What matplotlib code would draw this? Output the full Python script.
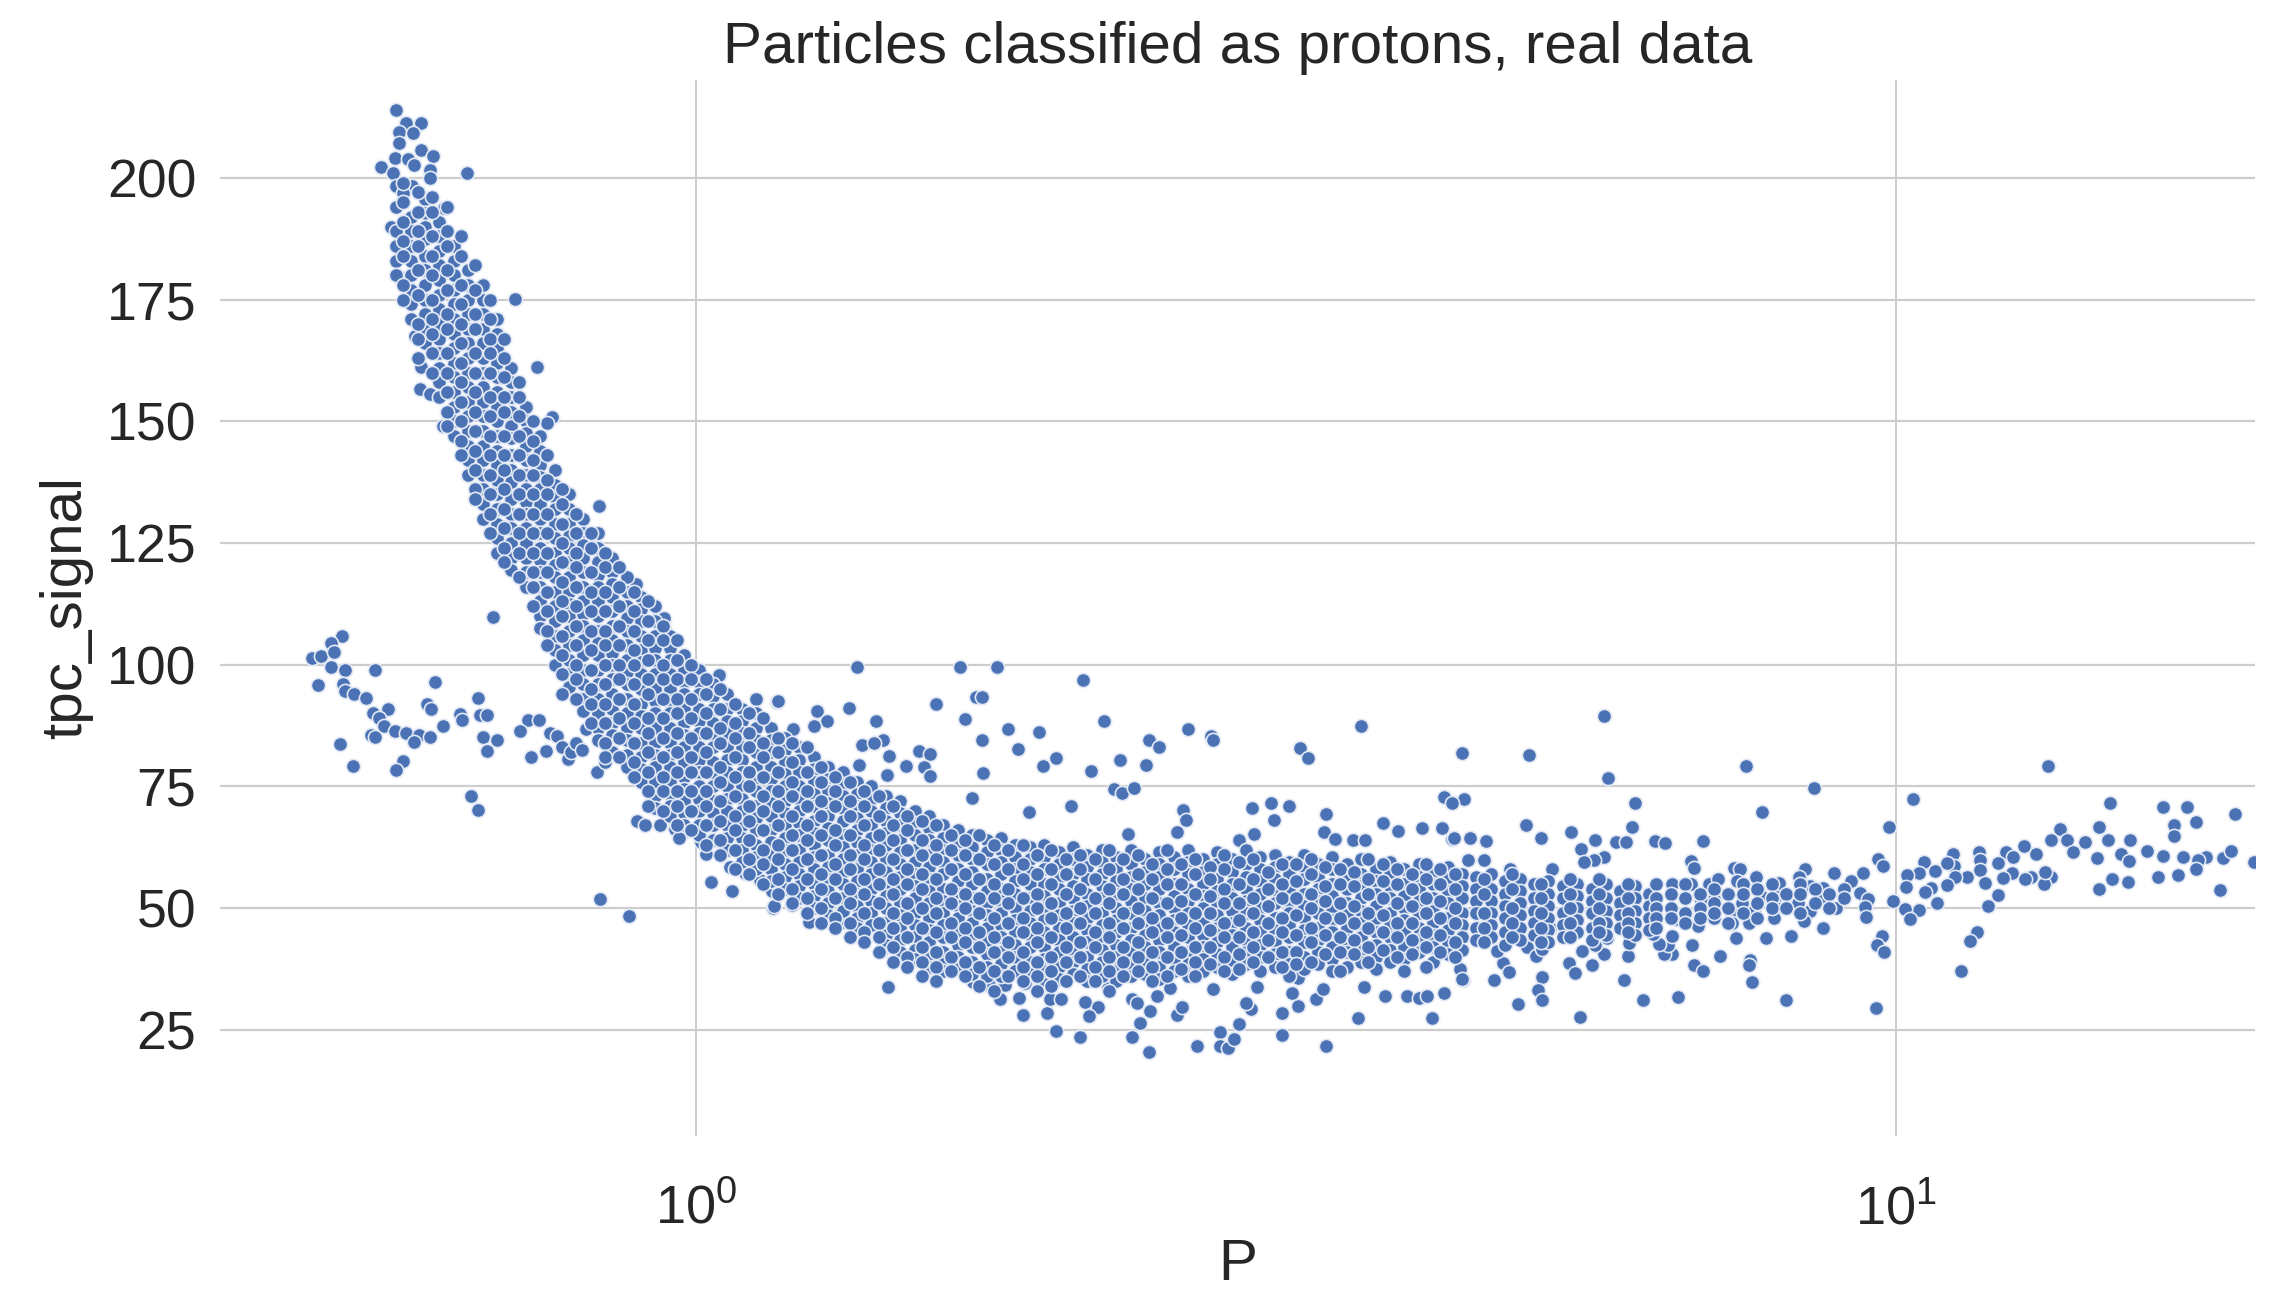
import matplotlib
matplotlib.use('Agg')
import matplotlib.pyplot as plt
import numpy as np

TITLE = 'Particles classified as protons, real data'
Y_TICKS = [25, 50, 75, 100, 125, 150, 175, 200]

# dense band, one row of signal readings per log10(P) column
cloud_log_p = [
    -0.250, -0.238, -0.226, -0.214, -0.202, -0.190, -0.178, -0.166, -0.154, -0.142,
    -0.130, -0.118, -0.106, -0.094, -0.082, -0.070, -0.058, -0.046, -0.034, -0.022,
    -0.010, 0.002, 0.014, 0.026, 0.038, 0.050, 0.062, 0.074, 0.086, 0.098,
    0.110, 0.122, 0.134, 0.146, 0.158, 0.170, 0.182, 0.194, 0.206, 0.218,
    0.230, 0.242, 0.254, 0.266, 0.278, 0.290, 0.302, 0.314, 0.326, 0.338,
    0.350, 0.362, 0.374, 0.386, 0.398, 0.410, 0.422, 0.434, 0.446, 0.458,
    0.470, 0.482, 0.494, 0.506, 0.518, 0.530, 0.542, 0.554, 0.566, 0.578,
    0.590, 0.602, 0.614, 0.626, 0.638, 0.650, 0.662, 0.674, 0.686, 0.698,
    0.710, 0.722, 0.734, 0.746, 0.758, 0.770, 0.782, 0.794,
]
cloud_signal = [
    [189, 186, 183, 180],
    [192, 189, 186, 183, 180, 177, 174, 171],
    [190, 187.5, 184, 181, 178, 175, 172, 169, 166],
    [191, 188, 185, 182, 179, 176, 173, 170, 167, 164, 161, 158, 155],
    [186, 183, 180, 177, 174, 171, 168, 165, 162, 159, 156, 153, 150, 147],
    [181, 178, 175, 172, 169, 166, 163, 160, 157, 154, 151, 148, 145, 142, 139],
    [178, 175, 172, 169, 166, 163, 160, 157, 154, 151, 148, 145, 142, 139, 136, 133, 130],
    [171, 168, 165, 162, 159, 156, 153, 150, 147, 144, 141, 138, 135, 132, 129, 126, 123],
    [161, 158, 155, 152, 149, 146.5, 143, 140, 137.5, 134, 131, 128, 125, 122, 119.5],
    [153, 150, 147.5, 145, 142, 139, 136, 133.5, 131, 128, 125, 122, 119, 116],
    [147, 144, 141, 138.5, 136, 133, 130, 127, 124, 121.5, 119, 116, 113, 110, 107.5],
    [140, 137, 134.5, 132, 129, 126, 123, 120.5, 118, 115, 112, 109, 106, 103, 100],
    [135, 132, 129, 126.5, 124, 121, 118, 115, 112.5, 110, 107, 104, 101, 98, 95.5],
    [130, 127, 124.5, 122, 119, 116, 113, 110.5, 108, 105, 102, 99, 96, 93, 90.5],
    [127, 124, 121, 118.5, 116, 113, 110, 107, 104.5, 102, 99, 96, 93, 90, 87, 84.5],
    [122, 119, 116.5, 114, 111, 108, 105, 102.5, 100, 97, 94, 91, 88, 85.5, 82],
    [118, 115, 112, 109.5, 107, 104, 101, 98.5, 96, 93, 90, 87, 84.5, 81.5, 79],
    [114, 111.5, 109, 106, 103, 100.5, 98, 95, 92, 89.5, 87, 84, 81, 78.5, 76],
    [112, 109, 106, 103.5, 101, 98, 95, 92.5, 90, 87, 84, 81.5, 79, 76, 73, 70.5],
    [106, 103.5, 101, 98, 95, 92.5, 90, 87, 84, 81.5, 79, 76, 73.5, 71, 69],
    [102, 99, 96.5, 94, 91, 88, 85.5, 83, 80, 77, 74.5, 72, 69.5, 67],
    [99, 96.5, 94, 91, 88.5, 86, 83, 80.5, 78, 75, 72.5, 70, 67, 65],
    [96, 93.5, 91, 88, 85.5, 83, 80, 77.5, 75, 72, 69.5, 67, 64],
    [94, 91, 88.5, 86, 83, 80.5, 78, 75, 72.5, 70, 67, 64.5, 62],
    [91, 88.5, 86, 83, 80.5, 78, 75, 72.5, 70, 67, 64.5, 62, 59.5],
    [90, 87, 84.5, 82, 79, 76.5, 74, 71, 68.5, 66, 63, 60.5, 58],
    [87, 84.5, 82, 79, 76.5, 74, 71.5, 69, 66, 63.5, 61, 58, 55.5],
    [85, 82.5, 80, 77.5, 75, 72, 69.5, 67, 64.5, 62, 59, 56.5, 54],
    [83, 80.5, 78, 75, 72.5, 70, 67.5, 65, 62, 59.5, 57, 54.5, 52],
    [81, 78.5, 76, 73.5, 71, 68, 65.5, 63, 60.5, 58, 55, 52.5, 50],
    [79, 76.5, 74, 71.5, 69, 66.5, 64, 61, 58.5, 56, 53.5, 51, 48.5],
    [78, 75.5, 73, 70.5, 68, 65, 62.5, 60, 57.5, 55, 52, 49.5],
    [76, 73.5, 71, 68.5, 66, 63.5, 61, 58, 55.5, 53, 50.5, 48, 46],
    [75, 72.5, 70, 67, 64.5, 62, 59.5, 57, 54, 51.5, 49, 46.5],
    [73, 70.5, 68, 65.5, 63, 60, 57.5, 55, 52.5, 50, 47, 44.5, 42.5],
    [72, 69.5, 67, 64, 61.5, 59, 56.5, 54, 51, 48.5, 46, 43.5, 41],
    [70, 67.5, 65, 62, 59.5, 57, 54.5, 52, 49, 46.5, 44, 41.5, 39.5],
    [69, 66.5, 64, 61, 58.5, 56, 53.5, 51, 48, 45.5, 43, 40.5, 38],
    [67, 64.5, 62, 59.5, 57, 54, 51.5, 49, 46.5, 44, 41, 38.5, 37],
    [66, 63.5, 61, 58, 55.5, 53, 50.5, 48, 45, 42.5, 40, 37.5],
    [65, 62.5, 60, 57.5, 55, 52, 49.5, 47, 44.5, 42, 39, 36.5],
    [64, 61.5, 59, 56, 53.5, 51, 48.5, 46, 43, 40.5, 38, 36],
    [64.5, 62, 59.5, 57, 54, 51.5, 49, 46.5, 44, 41, 38.5, 36],
    [63, 60.5, 58, 55.5, 53, 50, 47.5, 45, 42.5, 40, 37],
    [62.5, 60, 57.5, 55, 52, 49.5, 47, 44.5, 42, 39, 36.5],
    [63, 60.5, 58, 55, 52.5, 50, 47.5, 45, 42, 39.5, 37, 34.5],
    [61.5, 59, 56.5, 54, 51, 48.5, 46, 43.5, 41, 38, 35.5],
    [62.5, 60, 57, 54.5, 52, 49.5, 47, 44, 41.5, 39, 36.5],
    [61, 58.5, 56, 53, 50.5, 48, 45.5, 43, 40, 37.5, 35],
    [62, 59.5, 57, 54.5, 52, 49, 46.5, 44, 41.5, 39, 36],
    [60.5, 58, 55.5, 53, 50, 47.5, 45, 42.5, 40, 37, 35],
    [62, 59, 56.5, 54, 51.5, 49, 46, 43.5, 41, 38.5, 36],
    [60, 57.5, 55, 52, 49.5, 47, 44.5, 42, 39, 36.5],
    [61.5, 59, 56.5, 54, 51, 48.5, 46, 43.5, 41, 38, 35.5],
    [60.5, 58, 55, 52.5, 50, 47.5, 45, 42, 39.5, 37],
    [62, 59.5, 57, 54, 51.5, 49, 46.5, 44, 41, 38.5, 36],
    [60, 57.5, 55, 52.5, 50, 47, 44.5, 42, 39.5, 37],
    [61.5, 59, 56, 53.5, 51, 48.5, 46, 43, 40.5, 38],
    [60, 57.5, 55, 52, 49.5, 47, 44.5, 42, 39, 36.5],
    [62, 59, 56.5, 54, 51.5, 49, 46, 43.5, 41, 38.5],
    [60.5, 58, 55.5, 53, 50, 47.5, 45, 42.5, 40, 37],
    [61, 58.5, 56, 53.5, 51, 48, 45.5, 43, 40.5, 38],
    [59.5, 57, 54, 51.5, 49, 46.5, 44, 41, 38.5, 36],
    [61, 58.5, 56, 53, 50.5, 48, 45.5, 43, 40, 37.5],
    [59, 56.5, 54, 51.5, 49, 46, 43.5, 41, 38.5],
    [60.5, 58, 55, 52.5, 50, 47.5, 45, 42, 39.5, 37],
    [59, 56.5, 54, 51, 48.5, 46, 43.5, 41, 38],
    [60, 57, 54.5, 52, 49.5, 47, 44, 41.5, 39],
    [58, 55.5, 53, 50.5, 48, 45, 42.5, 40, 37.5],
    [59.5, 57, 54.5, 52, 49, 46.5, 44, 41.5, 39],
    [58, 55, 52.5, 50, 47.5, 45, 42, 39.5, 37],
    [59, 56.5, 54, 51.5, 49, 46, 43.5, 41],
    [57.5, 55, 52, 49.5, 47, 44.5, 42, 39],
    [58.5, 56, 53.5, 51, 48, 45.5, 43, 40.5],
    [57, 54.5, 52, 49, 46.5, 44, 41.5],
    [56.5, 54, 51.5, 49, 46, 43.5],
    [57, 54, 51.5, 49, 46.5, 44],
    [55.5, 53, 50.5, 48, 45, 42.5],
    [56, 53.5, 51, 48.5, 46, 43.5],
    [55, 52, 49.5, 47, 44.5],
    [55.5, 53, 50.5, 48, 45.5, 43],
    [54.5, 52, 49, 46.5, 44],
    [55, 52.5, 50, 47.5, 45],
    [54, 51.5, 49, 46, 43.5],
    [55, 52, 49.5, 47, 44.5],
    [53.5, 51, 48.5, 46],
    [54.5, 52, 49.5, 47, 44.5],
    [53, 50.5, 48, 45.5],
]

# second pass over the band, read between the columns above
fill_log_p = [
    -0.244, -0.232, -0.220, -0.208, -0.196, -0.184, -0.172, -0.160, -0.148, -0.136,
    -0.124, -0.112, -0.100, -0.088, -0.076, -0.064, -0.052, -0.040, -0.028, -0.016,
    -0.004, 0.008, 0.020, 0.032, 0.044, 0.056, 0.068, 0.080, 0.092, 0.104,
    0.116, 0.128, 0.140, 0.152, 0.164, 0.176, 0.188, 0.200, 0.212, 0.224,
    0.236, 0.248, 0.260, 0.272, 0.284, 0.296, 0.308, 0.320, 0.332, 0.344,
    0.356, 0.368, 0.380, 0.392, 0.416, 0.440, 0.464, 0.488, 0.512, 0.536,
    0.560, 0.584, 0.608, 0.632, 0.656, 0.680, 0.704, 0.728, 0.752, 0.776,
    0.800, 0.812, 0.824, 0.836, 0.848, 0.860, 0.872, 0.884, 0.896, 0.908,
    0.920, 0.932, 0.944, 0.956,
    0.404, 0.428, 0.452, 0.476, 0.500, 0.524, 0.548, 0.572, 0.596, 0.620,
]
fill_signal = [
    [199, 195, 191, 187, 184, 178, 175],
    [197, 193, 189, 186, 181, 176, 170, 167, 163],
    [196, 193, 188, 184, 180, 175, 171, 168, 164, 160],
    [194, 189, 186, 181, 177, 172, 169, 164, 160, 156, 152, 149],
    [188, 184, 178, 174, 170, 166, 162, 158, 154, 150, 146, 143],
    [182, 177, 172, 169, 164, 160, 156, 152, 148, 144, 140, 136, 134],
    [175, 171, 167, 164, 160, 155, 151, 147, 143, 139, 135, 131, 127],
    [167, 163, 159, 155, 152, 147, 143, 140, 136, 132, 128, 124, 121],
    [158, 155, 151, 147, 143, 139, 135, 131, 127, 123, 118],
    [150, 146, 142, 139, 135, 131, 127, 123, 119, 116, 112],
    [143, 138, 135, 131, 127, 123, 119, 115, 111, 107, 104],
    [136, 133, 129, 125, 121, 117, 113, 110, 106, 102, 98, 94],
    [131, 127, 123, 120, 116, 112, 108, 104, 100, 97, 93],
    [127, 124, 119, 115, 111, 107, 103, 99, 95, 92, 88],
    [123, 120, 115, 111, 107, 104, 100, 96, 92, 88, 84, 81],
    [120, 116, 112, 108, 104, 100, 97, 93, 89, 85, 81],
    [115, 111, 107, 103, 100, 96, 92, 88, 84, 80, 77],
    [113, 109, 105, 101, 97, 94, 89, 86, 82, 78, 74, 71],
    [108, 105, 100, 97, 93, 89, 85, 81, 77, 74, 70],
    [105, 101, 97, 93, 90, 86, 82, 78, 74, 71, 67],
    [100, 97, 93, 89, 85, 81, 78, 74, 70, 66],
    [97, 94, 90, 86, 82, 78, 74, 71, 67, 63],
    [95, 91, 87, 84, 79, 76, 72, 68, 64, 61],
    [92, 88, 85, 81, 77, 73, 69, 66, 62, 58],
    [90, 86, 83, 78, 75, 71, 68, 64, 60, 57],
    [89, 84, 81, 77, 73, 70, 66, 62, 59, 55],
    [85, 82, 78, 74, 71, 67, 63, 60, 56, 53],
    [84, 80, 76, 73, 69, 65, 62, 58, 54, 51],
    [83, 78, 74, 71, 67, 64, 60, 56, 52, 49],
    [79, 76, 72, 69, 65, 61, 57, 54, 50, 47],
    [77, 74, 71, 66, 63, 59, 56, 52, 48, 46],
    [76, 72, 69, 65, 61, 58, 54, 51, 47, 44],
    [74, 71, 67, 63, 60, 56, 53, 49, 45, 43],
    [73, 69, 65, 62, 58, 55, 51, 47, 44, 41],
    [71, 67, 64, 60, 56, 53, 49, 46, 42, 39],
    [69, 66, 62, 58, 55, 51, 48, 44, 40, 38],
    [68, 64, 61, 57, 54, 50, 46, 42, 39, 36],
    [67, 63, 60, 56, 52, 49, 45, 41, 38, 35],
    [65, 62, 58, 54, 51, 47, 44, 40, 37],
    [64, 61, 57, 53, 50, 46, 43, 39, 36],
    [65, 60, 56, 52, 49, 45, 42, 38, 34],
    [63, 59, 55, 52, 48, 44, 41, 37, 33],
    [62, 58, 54, 51, 47, 43, 40, 36],
    [63, 59, 56, 52, 48, 45, 41, 38, 35],
    [61, 57, 53, 50, 46, 43, 39, 36, 33],
    [62, 58, 55, 51, 48, 44, 40, 37, 34],
    [60, 57, 53, 49, 46, 42, 39, 35],
    [61, 58, 54, 50, 47, 43, 40, 36],
    [60, 56, 52, 49, 45, 42, 38, 35],
    [62, 58, 54, 51, 47, 44, 40, 37, 33],
    [60, 56, 53, 49, 46, 42, 39, 36],
    [61, 57, 54, 50, 47, 43, 40, 37],
    [59, 56, 52, 48, 45, 41, 38, 35],
    [62, 58, 55, 51, 47, 44, 40, 36],
    [60, 57, 53, 49, 46, 42, 39, 36],
    [61, 58, 54, 51, 47, 44, 40, 37],
    [60, 56, 52, 49, 45, 42, 39],
    [59, 55, 52, 48, 45, 41, 38],
    [60, 57, 53, 50, 46, 43, 39],
    [58, 55, 51, 48, 44, 41, 37],
    [60, 56, 53, 49, 46, 42, 39],
    [58, 55, 51, 47, 44, 40],
    [59, 56, 52, 49, 45, 42, 38],
    [57, 54, 50, 47, 43, 40],
    [56, 53, 49, 46, 43],
    [57, 54, 50, 47, 44],
    [55, 52, 49, 46, 43],
    [56, 53, 50, 47, 44],
    [56, 53, 50, 47, 45],
    [55, 52, 49, 47, 45],
    [55, 52, 50, 48, 46],
    [53, 50, 48],
    [55, 52, 49, 47],
    [53, 50, 48],
    [54, 51, 49],
    [53, 50, 47],
    [55, 53, 49],
    [54, 51, 48],
    [55, 52, 50],
    [53, 50],
    [55, 53, 49],
    [54, 51],
    [53, 50],
    [54, 52],
    [59, 55, 51.5, 48, 44.5, 41, 37.5],
    [58.5, 56, 52.5, 49, 45.5, 42, 38.5],
    [59.5, 55, 51, 47.5, 44, 40.5, 37.5],
    [57.5, 54, 50.5, 47, 43.5, 40],
    [59, 55.5, 52, 48.5, 44.5, 41, 38.5],
    [58.5, 54.5, 51.5, 48, 44.5, 40.5],
    [57.5, 54.5, 50.5, 47, 43.5, 40.5],
    [59, 55.5, 52, 48.5, 45, 41.5],
    [57, 54, 50.5, 47, 43.5, 40.5],
    [58, 55, 51.5, 48, 44.5, 41],
]

# stragglers around the top of the band
top_log_p = [-0.250, -0.242, -0.229, -0.2475, -0.236, -0.2475, -0.229, -0.219, -0.251, -0.263, -0.253, -0.240, -0.235, -0.222, -0.222, -0.191, -0.250, -0.237, -0.244, -0.226, -0.250, -0.210, -0.226, -0.240, -0.254, -0.151, -0.133, -0.120, -0.124, -0.229, -0.230, -0.222, -0.211, -0.234, -0.247, -0.169, -0.081, -0.050, -0.027, -0.027, 0.019, 0.050, 0.067]
top_signal = [214, 211.2, 211.3, 209.5, 209.2, 207.2, 205.8, 204.5, 204, 202.3, 200.9, 203.8, 202.7, 201.7, 200, 200.9, 198.3, 198.3, 196.9, 195.6, 194, 193.8, 192.7, 191.6, 190, 175.2, 161.2, 150.8, 149.7, 161.2, 156.6, 155.7, 149, 167.5, 179.7, 109.9, 132.7, 116.6, 109.5, 107.3, 97.8, 93, 92.3]

# the separate branch on the left
branch_log_p = [-0.295, -0.304, -0.320, -0.313, -0.302, -0.304, -0.293, -0.268, -0.315, -0.294, -0.293, -0.285, -0.275, -0.218, -0.182, -0.224, -0.221, -0.269, -0.257, -0.264, -0.260, -0.251, -0.242, -0.231, -0.222, -0.235, -0.271, -0.268, -0.211, -0.197, -0.195, -0.180, -0.174, -0.178, -0.166, -0.174, -0.297, -0.286, -0.244, -0.250, -0.140, -0.131, -0.147, -0.122, -0.116, -0.138, -0.125, -0.112, -0.107, -0.104, -0.100, -0.095, -0.092, -0.083, -0.076, -0.073, -0.1875, -0.182, -0.080, -0.056]
branch_signal = [105.8, 104.5, 101.4, 101.8, 102.6, 99.5, 99, 99, 95.9, 96.1, 94.5, 94, 93.2, 96.4, 93.2, 92, 91, 90.1, 91, 89.1, 87.4, 86.4, 86, 85.5, 85.1, 84.2, 85.5, 85.1, 87.4, 89.8, 88.6, 89.6, 89.6, 85.1, 84.6, 82.3, 83.8, 79.2, 80.2, 78.4, 88.7, 88.7, 86.4, 86, 85.3, 81, 82.3, 83.2, 80.7, 82, 84, 82.4, 86.8, 78, 80, 81.7, 73, 70.2, 51.8, 48.3]

# above the band, middle of the plot
upper_log_p = [0.134, 0.220, 0.251, 0.322, 0.068, 0.019, 0.127, 0.101, 0.109, 0.098, 0.200, 0.233, 0.238, 0.224, 0.150, 0.081, 0.260, 0.286, 0.340, 0.410, 0.429, 0.431, 0.554, 0.238, 0.268, 0.377, 0.386, 0.156, 0.138, 0.148, 0.186, 0.195, 0.161, 0.300, 0.353, 0.503, 0.510, 0.136, 0.175, 0.190, 0.289, 0.375, 0.329, 0.239, 0.195, 0.159, 0.348, 0.355, 0.365, 0.623, 0.312, 0.230, 0.277, 0.479, 0.494, 0.463, 0.481, 0.406, 0.408, 0.525, 0.572, 0.605, 0.621, 0.585, 0.465, 0.401, 0.360, 0.523, 0.532, 0.452, 0.547, 0.557, 0.630]
upper_signal = [99.6, 99.6, 99.6, 96.9, 92.5, 97.9, 91.1, 90.4, 88.5, 87.5, 92, 93.3, 93.3, 88.9, 88.4, 86.8, 86.7, 86.2, 88.4, 86.7, 85.3, 84.5, 87.5, 84.5, 82.6, 84.5, 83, 84.5, 83.5, 84, 82.3, 81.7, 81.3, 80.9, 80.4, 82.8, 80.8, 79.4, 79.1, 78.9, 79.1, 79.4, 78.1, 77.7, 77.2, 77.4, 74.5, 73.6, 74.7, 72.9, 70.9, 72.6, 69.7, 71.6, 71, 70.5, 68.2, 70.2, 68.2, 69.4, 67.5, 66.5, 66.5, 65.8, 65.3, 65.6, 65.3, 65.7, 64.3, 63.9, 63.9, 63.9, 64.3]

# below the band
lower_log_p = [-0.049, -0.043, -0.030, -0.0175, -0.009, -0.014, 0.004, 0.008, 0.012, 0.030, 0.028, 0.041, 0.053, 0.063, 0.064, 0.160, 0.212, 0.190, 0.154, 0.132, 0.094, 0.109, 0.122, 0.065, 0.080, 0.231, 0.244, 0.257, 0.274, 0.253, 0.269, 0.272, 0.292, 0.295, 0.304, 0.300, 0.320, 0.324, 0.335, 0.327, 0.343, 0.363, 0.367, 0.378, 0.370, 0.363, 0.377, 0.401, 0.405, 0.395, 0.384, 0.417, 0.436, 0.436, 0.443, 0.448, 0.452, 0.462, 0.458, 0.467, 0.431, 0.488, 0.488, 0.501, 0.496, 0.516, 0.522, 0.525, 0.551, 0.556, 0.574, 0.592, 0.602, 0.609, 0.623, 0.613, 0.639, 0.501]
lower_signal = [68, 67.1, 67.1, 66.3, 65.8, 64.4, 63.6, 61.2, 55.3, 53.6, 58.4, 57.2, 55.8, 53.6, 50, 33.8, 39.6, 39.1, 41.3, 44.5, 47.2, 47.6, 47.2, 50.4, 50.6, 34.8, 34.3, 34.3, 34.7, 31.3, 31.6, 28, 28.5, 31.3, 31.3, 24.8, 23.6, 30.7, 29.6, 27.9, 33.6, 31.3, 30.6, 28.9, 26.5, 23.6, 20.4, 28, 29.6, 33.6, 31.9, 21.7, 24.5, 21.7, 21.3, 23.2, 26.3, 29.2, 30.6, 33.8, 33.4, 28.5, 23.9, 29.8, 32.5, 31.3, 33.4, 21.7, 27.5, 33.8, 31.9, 31.9, 31.6, 31.9, 32.5, 27.5, 35.3, 35.7]

# thinning tail towards the right edge
tail_log_p = [0.756, 0.638, 0.694, 0.760, 0.875, 0.931, 1.126, 0.640, 0.630, 0.782, 0.888, 1.014, 1.178, 1.222, 1.242, 1.282, 1.231, 1.250, 1.231, 0.691, 0.780, 0.729, 0.994, 1.169, 1.136, 0.704, 0.631, 0.645, 0.658, 0.749, 0.737, 0.766, 0.775, 0.799, 0.807, 0.839, 0.756, 0.748, 0.740, 1.129, 1.142, 1.157, 1.176, 1.195, 1.106, 1.091, 1.116, 1.069, 1.047, 1.023, 1.147, 1.167, 1.187, 1.209, 1.222, 1.239, 1.258, 1.272, 1.279, 1.251, 1.194, 1.298, 1.250, 1.235, 1.218, 1.193, 1.180, 1.169, 1.270, 1.129, 1.123, 1.124, 1.112, 1.107, 1.096, 1.089, 1.097, 1.085, 1.070, 1.070, 1.074, 1.059, 1.048, 1.049, 1.042, 1.042, 1.032, 1.029, 1.024, 1.019, 1.009, 1.008, 1.034, 1.085, 1.076, 1.019, 1.007, 1.011, 0.997, 1.067, 1.061, 1.054, 0.988, 0.984, 0.990, 0.983, 0.908, 0.880, 0.878, 0.877, 0.853, 0.830, 0.831, 0.839, 0.818, 0.789, 0.773, 0.776, 0.777, 0.746, 0.756, 0.749, 0.738, 0.727, 0.732, 0.705, 0.701, 0.705, 0.736, 0.685, 0.665, 0.672, 0.677, 0.667, 0.692, 0.700, 0.705, 0.636, 0.638, 0.633, 0.813, 0.806, 0.810, 0.802, 0.813, 0.797, 0.866, 0.891, 0.912, 0.939, 0.759, 0.711, 0.678, 0.713, 0.656, 0.643, 0.829, 0.831, 0.865, 0.870, 0.924, 0.948, 0.985, 0.989, 0.972, 0.962, 0.970, 0.976, 0.974, 0.975, 0.950, 0.939, 0.939, 0.928, 0.918, 0.928, 0.923, 0.900, 0.887, 0.900, 0.898, 0.881, 0.877, 0.863, 0.863, 0.848, 0.835, 0.817, 0.871, 0.848, 0.837, 0.867, 0.844, 0.829, 0.813, 0.851, 0.883, 0.902, 0.919]
tail_signal = [89.4, 81.8, 81.4, 76.8, 79.1, 74.7, 79.1, 72.5, 71.5, 71.5, 69.7, 72.4, 71.5, 70.7, 70.7, 69.3, 67.1, 67.6, 64.8, 67, 66.6, 65.7, 66.6, 66.7, 66.3, 64.4, 64.4, 64.4, 63.8, 63.9, 62.2, 63.5, 63.5, 63.8, 63.3, 63.8, 60.5, 59.9, 59.5, 63.9, 63.9, 63.5, 63.9, 63.9, 62.7, 61.6, 61.2, 61.6, 61.2, 59.5, 61.6, 60.3, 61.2, 61.7, 60.7, 60.5, 60.5, 60.3, 61.8, 59.9, 59.6, 59.5, 58, 56.9, 56.5, 55.4, 55.9, 54, 53.7, 56.3, 55, 57.5, 56.4, 55.9, 57.2, 56.2, 60.6, 59.3, 59.9, 57.9, 55.2, 56.3, 58.6, 56.5, 59.3, 54.8, 57.7, 54.1, 53.3, 57.2, 56.9, 54.4, 51, 52.7, 50.4, 49.6, 49.9, 47.7, 51.4, 45.2, 43.3, 37, 44.3, 42.4, 40.9, 29.5, 31.2, 34.8, 39.4, 38.4, 40.2, 42.4, 38.4, 37, 31.7, 31.2, 35.2, 40.2, 42.9, 38.3, 40.5, 42.4, 41.1, 38.8, 36.6, 35.8, 33.1, 31.2, 27.6, 30.3, 35.2, 38.8, 36.9, 41.1, 42, 40.2, 41.7, 37.5, 35.4, 40.9, 40.5, 40.5, 42.4, 42.6, 44.3, 44.6, 43.8, 43.8, 44.2, 46, 43.8, 46, 58.1, 58.1, 59.8, 59.9, 59.6, 58.2, 58.2, 58, 58.1, 57.2, 60, 58.6, 57.2, 55.5, 53.1, 51.8, 50.3, 48.2, 50.1, 54.1, 51.8, 54.5, 51.1, 49.4, 47.3, 52.4, 52.4, 50.1, 48, 49.4, 46.9, 48.7, 46.9, 48, 46.3, 47.8, 51, 51.9, 51.4, 55.5, 55, 55, 55, 56, 56.5, 55.2, 56.5]

log_p = list(top_log_p) + list(branch_log_p) + list(upper_log_p) + list(lower_log_p) + list(tail_log_p)
signal = list(top_signal) + list(branch_signal) + list(upper_signal) + list(lower_signal) + list(tail_signal)
for cols, rows in [(cloud_log_p, cloud_signal), (fill_log_p, fill_signal)]:
    for col, vals in zip(cols, rows):
        log_p += [col] * len(vals)
        signal += vals

plt.rcParams['font.family'] = ['Liberation Sans', 'DejaVu Sans']
plt.rcParams['mathtext.default'] = 'regular'

fig = plt.figure(figsize=(22.69, 12.89), dpi=100)
ax = fig.add_axes([220 / 2269, 1 - 1136 / 1289, 2035 / 2269, 1056 / 1289])

ax.scatter(10 ** np.array(log_p), signal, s=105, color='#4a72b4', edgecolor='#e2e8f4',
           linewidth=1.2, zorder=3)

ax.set_xscale('log')
ax.set_xlim(0.401, 19.9)
ax.set_ylim(3.2, 220.1)
ax.set_yticks(Y_TICKS)
ax.yaxis.grid(True, color='#cdcdcd', linewidth=1.6, zorder=0)
ax.xaxis.grid(True, which='major', color='#bdbdbd', linewidth=1.1, zorder=0)
ax.set_axisbelow(True)
ax.minorticks_off()
for spine in ax.spines.values():
    spine.set_visible(False)
ax.tick_params(axis='y', length=0, labelsize=38.5, labelcolor='#262626', pad=17)
ax.tick_params(axis='x', length=0, labelsize=39, labelcolor='#262626', pad=34)

ax.set_title(TITLE, fontsize=42, color='#262626', pad=12)
ax.set_xlabel('P', fontsize=42, color='#262626', labelpad=2)
ax.set_ylabel('tpc_signal', fontsize=42, color='#262626', labelpad=10)

fig.savefig('out.png', dpi=100)
